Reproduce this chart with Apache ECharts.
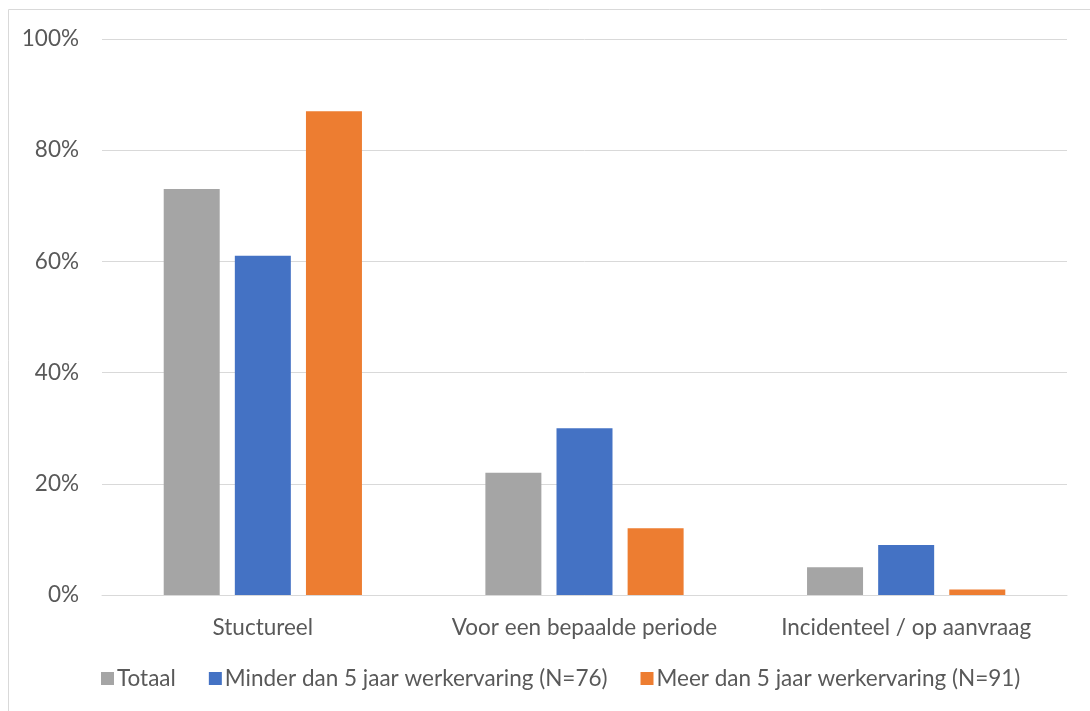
<!DOCTYPE html>
<html>
<head>
<meta charset="utf-8">
<script src="https://cdn.jsdelivr.net/npm/echarts@6/dist/echarts.min.js"></script>
<style>
  html, body { margin: 0; padding: 0; background: #fff; }
  #chart { width: 1090px; height: 711px; }
</style>
</head>
<body>
<div id="chart"></div>
<script>
const categories = ['Stuctureel', 'Voor een bepaalde periode', 'Incidenteel / op aanvraag']
const seriesNames = ['Totaal', 'Minder dan 5 jaar werkervaring (N=76)', 'Meer dan 5 jaar werkervaring (N=91)']
const totaal = [73, 22, 5]
const minder = [61, 30, 9]
const meer = [87, 12, 1]
const colors = ['#a5a5a5', '#4472c4', '#ed7d31']

const font = 'Lato, "Open Sans", sans-serif'
const myChart = echarts.init(document.getElementById('chart'))

const values = [totaal, minder, meer]
myChart.setOption({
  animation: false,
  color: colors,
  textStyle: { fontFamily: font },
  graphic: [
    {
      type: 'rect',
      shape: { x: 8.5, y: 9.5, width: 1200, height: 800 },
      style: { fill: 'none', stroke: '#d9d9d9', lineWidth: 1 },
      silent: true
    }
  ],
  grid: { left: 102, right: 23, top: 39, bottom: 116 },
  legend: {
    left: 96,
    top: 662,
    itemWidth: 13,
    itemHeight: 13,
    itemGap: 33,
    icon: 'rect',
    textStyle: { fontSize: 22.5, color: '#595959', fontFamily: font, padding: [0, 0, 0, -2] },
    data: seriesNames
  },
  xAxis: {
    type: 'category',
    data: categories,
    axisTick: { show: false },
    axisLine: { lineStyle: { color: '#d9d9d9', width: 1 } },
    axisLabel: { fontSize: 22.5, color: '#595959', margin: 21, interval: 0 }
  },
  yAxis: {
    type: 'value',
    min: 0,
    max: 100,
    interval: 20,
    axisLabel: { formatter: '{value}%', fontSize: 22.5, color: '#595959', margin: 23 },
    splitLine: { lineStyle: { color: '#d9d9d9', width: 1 } }
  },
  series: seriesNames.map((name, i) => ({
    name: name,
    type: 'bar',
    data: values[i],
    barWidth: 56,
    barGap: '27%'
  }))
})
</script>
</body>
</html>
